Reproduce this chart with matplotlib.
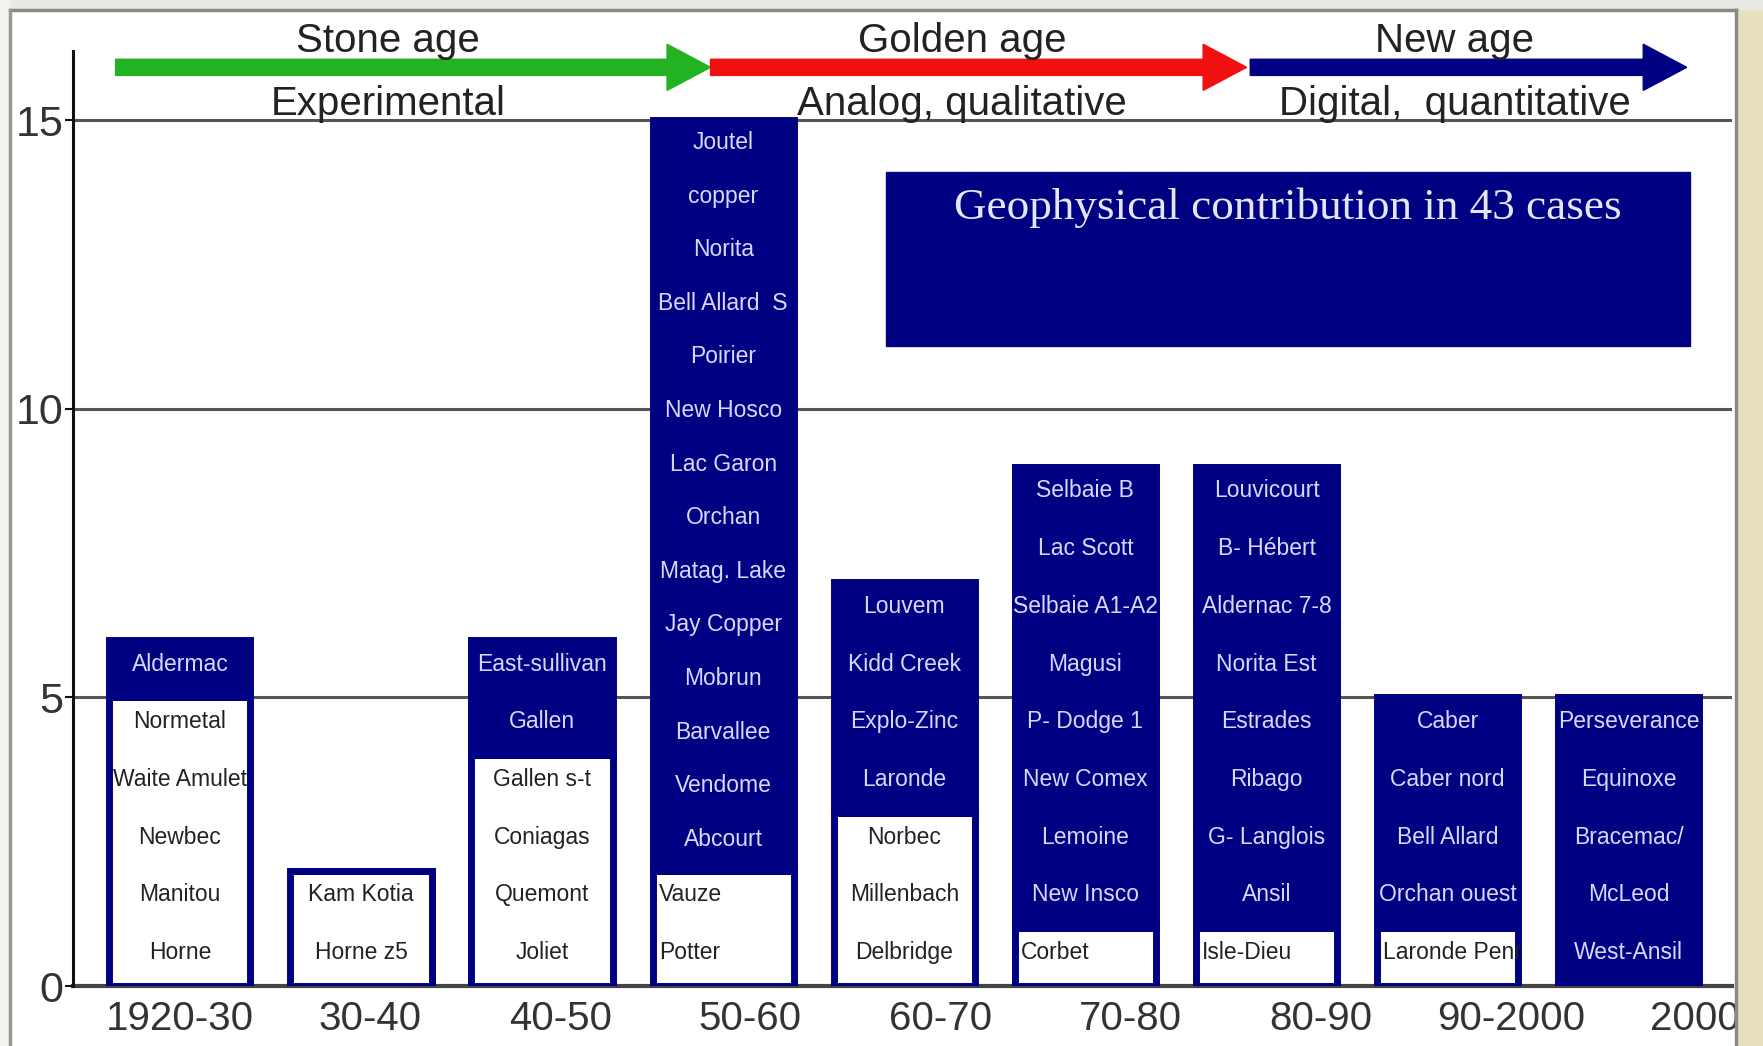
import matplotlib
matplotlib.use('Agg')
import matplotlib.pyplot as plt
from matplotlib.patches import Rectangle, FancyArrow
from matplotlib.transforms import Bbox, TransformedBbox

# ---------------- data ----------------
decades = ['1920-30', '30-40', '40-50', '50-60', '60-70', '70-80', '80-90', '90-2000', '2000-']
white_counts = [5, 2, 4, 2, 3, 1, 1, 1, 0]   # cases without geophysical contribution
navy_counts = [1, 0, 2, 13, 4, 8, 8, 4, 5]   # cases with geophysical contribution

navy_labels = [
    ['Aldermac'],
    [],
    ['East-sullivan', 'Gallen'],
    ['Joutel', 'copper', 'Norita', 'Bell Allard  S', 'Poirier', 'New Hosco', 'Lac Garon',
     'Orchan', 'Matag. Lake', 'Jay Copper', 'Mobrun', 'Barvallee', 'Vendome', 'Abcourt'],
    ['Louvem', 'Kidd Creek', 'Explo-Zinc', 'Laronde'],
    ['Selbaie B', 'Lac Scott', 'Selbaie A1-A2', 'Magusi', 'P- Dodge 1', 'New Comex',
     'Lemoine', 'New Insco'],
    ['Louvicourt', 'B- Hébert', 'Aldernac 7-8', 'Norita Est', 'Estrades', 'Ribago',
     'G- Langlois', 'Ansil'],
    ['Caber', 'Caber nord', 'Bell Allard', 'Orchan ouest'],
    ['Perseverance', 'Equinoxe', 'Bracemac/', 'McLeod', 'West-Ansil'],
]
white_labels = [
    ['Normetal', 'Waite Amulet', 'Newbec', 'Manitou', 'Horne'],
    ['Kam Kotia', 'Horne z5'],
    ['Gallen s-t', 'Coniagas', 'Quemont', 'Joliet'],
    ['Vauze', 'Potter'],
    ['Norbec', 'Millenbach', 'Delbridge'],
    ['Corbet'],
    ['Isle-Dieu'],
    ['Laronde Penna'],
    [],
]
left_aligned = {'Vauze', 'Potter', 'Corbet', 'Isle-Dieu', 'Laronde Penna'}

eras = ['Stone age', 'Golden age', 'New age']
era_sub = ['Experimental', 'Analog, qualitative', 'Digital,  quantitative']
yticks = [0, 5, 10, 15]
box_text = 'Geophysical contribution in 43 cases'

# ---------------- style ----------------
NAVY = '#000082'
W, H = 1763, 1046
fig = plt.figure(figsize=(W / 100, H / 100), dpi=100)
fig.patch.set_facecolor('white')

ax = fig.add_axes([73 / W, 60 / H, (1732 - 73) / W, 981 / H])
ax.set_xlim(-0.59, 8.57)
ax.set_ylim(0, 17)
ax.set_facecolor('none')

for s in ['top', 'right']:
    ax.spines[s].set_visible(False)
ax.spines['left'].set_bounds(0, 16.2)
ax.spines['left'].set_linewidth(2.2)
ax.spines['left'].set_color('#111111')
ax.spines['bottom'].set_linewidth(3)
ax.spines['bottom'].set_color('#444444')
ax.spines['bottom'].set_zorder(1)

for yv in yticks[1:]:
    ax.axhline(yv, color='#555555', lw=2.2, zorder=0.5)

xs = list(range(len(decades)))
bw = 0.78

ax.bar(xs, white_counts, width=bw, color='white', edgecolor=NAVY, linewidth=5, zorder=2)
ax.bar(xs, navy_counts, bottom=white_counts, width=bw, color=NAVY, edgecolor=NAVY,
       linewidth=5, zorder=2)

fs_cell = 16.5
for i, x in enumerate(xs):
    half = bw / 2
    for labels, bottom, height, col in [
        (white_labels[i], 0, white_counts[i], '#222222'),
        (navy_labels[i], white_counts[i], navy_counts[i], '#D8D8FF'),
    ]:
        n = len(labels)
        if n == 0:
            continue
        step = height / n
        clip = TransformedBbox(Bbox.from_extents(x - half - 0.02, bottom, x + half + 0.02,
                                                 bottom + height), ax.transData)
        for k, lab in enumerate(labels):
            yy = bottom + height - (k + 0.5) * step + 0.08
            if lab in left_aligned:
                t = ax.text(x - half + 0.035, yy, lab, ha='left', va='center', fontsize=fs_cell,
                            color=col, family='Liberation Sans', zorder=3)
            else:
                t = ax.text(x, yy, lab, ha='center', va='center', fontsize=fs_cell,
                            color=col, family='Liberation Sans', zorder=3)
            t.set_clip_box(clip)
            t.set_clip_on(True)

# x ticks (labels sit slightly to the right of the bars in the original)
ax.set_xticks([x * 1.05 for x in xs])
ax.set_xticklabels(decades, fontsize=29, color='#333333', family='Liberation Sans')
ax.tick_params(axis='x', length=0, pad=10)
ax.set_yticks(yticks)
ax.set_yticklabels([str(v) for v in yticks], fontsize=31, color='#333333', family='Liberation Sans')
ax.tick_params(axis='y', length=6, width=1.5, pad=1, color='#111111')

# era arrows
arrow_x = [-0.355, 2.93, 5.91]
arrow_end = [2.93, 5.89, 8.32]
arrow_col = ['#22B222', '#F01010', NAVY]
text_x = [1.15, 4.32, 7.04]
for x0, x1, c in zip(arrow_x, arrow_end, arrow_col):
    ax.add_patch(FancyArrow(x0, 15.92, x1 - x0, 0, width=0.28, head_width=0.8,
                            head_length=0.24, length_includes_head=True, color=c,
                            clip_on=False, zorder=4))
for tx, e, s in zip(text_x, eras, era_sub):
    ax.text(tx, 16.38, e, ha='center', va='center', fontsize=29, color='#222222',
            family='Liberation Sans', clip_on=False, zorder=5)
    ax.text(tx, 15.28, s, ha='center', va='center', fontsize=29, color='#222222',
            family='Liberation Sans', clip_on=False, zorder=5)

# geophysical box
ax.add_patch(Rectangle((3.90, 11.09), 8.34 - 3.90, 14.10 - 11.09, color=NAVY, zorder=3))
ax.text(6.12, 13.48, box_text, ha='center', va='center', fontsize=32.5, color='#E6E6FA',
        family='Liberation Serif', zorder=4)

# screenshot frame
fig.add_artist(Rectangle((1738 / W, 0), 1 - 1738 / W, 1, transform=fig.transFigure,
                         color='#E7DFBE', zorder=10))
fig.add_artist(Rectangle((0, 1 - 9 / H), 1, 9 / H, transform=fig.transFigure,
                         color='#EAEAE4', zorder=10))
fig.add_artist(Rectangle((0, 0), 9 / W, 1, transform=fig.transFigure,
                         color='#F2F2EE', zorder=10))
fig.add_artist(plt.Line2D([10 / W, 1736 / W], [1 - 10 / H, 1 - 10 / H], transform=fig.transFigure,
                          color='#8A8A80', lw=2.5, zorder=11))
fig.add_artist(plt.Line2D([10 / W, 10 / W], [0, 1 - 10 / H], transform=fig.transFigure,
                          color='#9A9A94', lw=2.5, zorder=11))
fig.add_artist(plt.Line2D([1736 / W, 1736 / W], [0, 1 - 10 / H], transform=fig.transFigure,
                          color='#8A8A80', lw=2.5, zorder=11))

fig.savefig('out.png', dpi=100)
